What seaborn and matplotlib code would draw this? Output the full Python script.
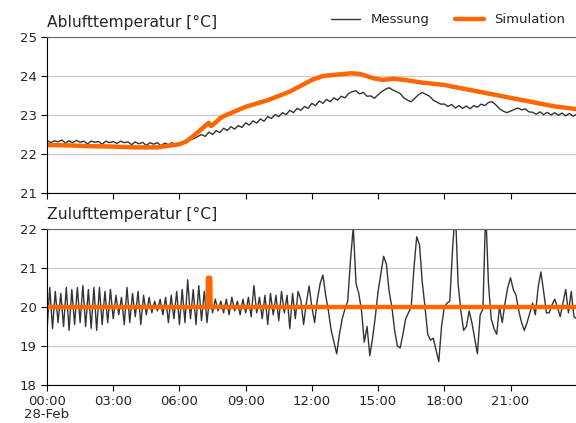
import numpy as np
import pandas as pd
import matplotlib
matplotlib.use("Agg")
import matplotlib.pyplot as plt
import matplotlib.dates as mdates
from matplotlib.ticker import FuncFormatter
import seaborn as sns

sns.set_style("white")
plt.rcParams['font.family'] = ['DejaVu Sans']

START = pd.Timestamp("2021-02-28 00:00")

# ---------------- data ----------------
# Abluft measured, 10-minute samples
abluft_mess = [
    22.35, 22.29, 22.34, 22.31, 22.36, 22.28,
    22.34, 22.29, 22.35, 22.30, 22.33, 22.26,
    22.33, 22.30, 22.32, 22.25, 22.33, 22.29,
    22.32, 22.27, 22.33, 22.29, 22.31, 22.24,
    22.31, 22.26, 22.30, 22.22, 22.29, 22.25,
    22.29, 22.21, 22.28, 22.24, 22.29, 22.23,
    22.28, 22.26, 22.31, 22.36, 22.40, 22.45,
    22.50, 22.45, 22.56, 22.50, 22.60, 22.55,
    22.66, 22.60, 22.70, 22.64, 22.73, 22.68,
    22.80, 22.74, 22.85, 22.79, 22.90, 22.84,
    22.96, 22.91, 23.01, 22.96, 23.06, 23.01,
    23.12, 23.06, 23.17, 23.12, 23.22, 23.17,
    23.30, 23.24, 23.36, 23.30, 23.40, 23.34,
    23.44, 23.38, 23.48, 23.44, 23.55, 23.60,
    23.62, 23.54, 23.58, 23.48, 23.49, 23.43,
    23.52, 23.60, 23.66, 23.70, 23.64, 23.60,
    23.55, 23.44, 23.38, 23.34, 23.43, 23.52,
    23.58, 23.53, 23.48, 23.38, 23.33, 23.28,
    23.28, 23.22, 23.27, 23.18, 23.24, 23.17,
    23.23, 23.16, 23.24, 23.20, 23.28, 23.24,
    23.32, 23.34, 23.26, 23.16, 23.10, 23.06,
    23.10, 23.14, 23.18, 23.13, 23.16, 23.08,
    23.07, 23.02, 23.08, 23.01, 23.07, 23.00,
    23.06, 22.99, 23.05, 22.98, 23.04, 22.97,
    23.02,
]
abluft_mess_step_h = 1 / 6

# Abluft simulation (hours, values)
abluft_sim_h = [0, 1, 2, 3, 4, 5, 6, 6.3, 6.6, 7.0, 7.2, 7.33, 7.42, 7.5, 7.85,
                8, 9, 10, 11, 12, 12.5, 13, 13.8, 14.2, 14.8, 15.2, 15.7, 16.2,
                17, 18, 19, 20, 21, 22, 23, 24]
abluft_sim = [22.23, 22.22, 22.2, 22.19, 22.17, 22.17, 22.25, 22.32, 22.45, 22.64,
              22.74, 22.8, 22.72, 22.74, 22.92,
              22.97, 23.21, 23.38, 23.6, 23.9, 24.0, 24.03, 24.07, 24.05, 23.94,
              23.9, 23.93, 23.9, 23.83, 23.77, 23.66, 23.55, 23.44, 23.33, 23.22, 23.15]

# Zuluft measured, 7.5-minute samples
zuluft_mess = [
    19.40, 20.50, 19.45, 20.40, 19.60, 20.35, 19.50, 20.50, 19.40, 20.45, 19.55, 20.50,
    19.60, 20.55, 19.50, 20.45, 19.45, 20.50, 19.40, 20.50, 19.55, 20.40, 19.60, 20.45,
    19.70, 20.30, 19.80, 20.25, 19.55, 20.50, 19.60, 20.35, 19.75, 20.40, 19.55, 20.30,
    19.80, 20.25, 19.85, 20.15, 19.90, 20.20, 19.80, 20.25,
    19.60, 20.30, 19.70, 20.40, 19.55, 20.45, 19.60, 20.70, 19.70, 20.45, 19.55, 20.55, 19.65, 20.40,
    19.60, 20.35,
    19.85, 20.20, 19.90, 20.15, 19.85, 20.20, 19.80, 20.25, 19.90, 20.15, 19.80, 20.20, 19.85, 20.25,
    19.75, 20.55,
    19.85, 20.25, 19.70, 20.30, 19.55, 20.35, 19.80, 20.30, 19.65, 20.40, 19.85, 20.30, 19.45, 20.35, 19.70, 20.40,
    20.18, 19.55, 20.10, 20.54, 20.00, 19.60, 20.20, 20.60,
    20.82, 20.30, 19.90, 19.40, 19.10, 18.80, 19.30, 19.70,
    19.95, 20.15, 21.20, 22.05, 20.60, 20.35, 19.90, 19.10,
    19.50, 18.75, 19.20, 19.75, 20.40, 20.85, 21.30, 21.10,
    20.40, 20.00, 19.40, 19.00, 18.95, 19.30, 19.70, 19.85,
    20.00, 21.00, 21.80, 21.60, 20.65, 20.00, 19.30, 19.15,
    19.20, 18.90, 18.60, 19.50, 20.00, 20.10, 20.15, 21.50,
    22.50, 20.60, 19.90, 19.40, 19.50, 19.90, 19.60, 19.20,
    18.80, 19.80, 19.95, 22.50, 20.60, 19.70, 19.45, 19.30,
    20.00, 19.60, 20.10, 20.50, 20.75, 20.45, 20.30, 19.90,
    19.60, 19.40, 19.60, 19.85, 20.10, 19.80, 20.50, 20.90,
    20.40, 19.85, 19.85, 20.05, 20.20, 20.00, 19.75, 20.10,
    20.45, 19.85, 20.40, 19.75, 19.70,
]
zuluft_mess_step_h = 7.5 / 60

# Zuluft simulation (hours, values)
zuluft_sim_h = [0, 7.27, 7.29, 7.39, 7.41, 24]
zuluft_sim = [20.0, 20.0, 20.75, 20.75, 20.0, 20.0]

y_ticks_ab = [21, 22, 23, 24, 25]
y_ticks_zu = [18, 19, 20, 21, 22]
title_ab = "Ablufttemperatur [°C]"
title_zu = "Zulufttemperatur [°C]"
label_mess = "Messung"
label_sim = "Simulation"


def to_time(hours):
    return START + pd.to_timedelta(np.asarray(hours, dtype=float), unit="h")


df_ab_m = pd.DataFrame({"t": to_time(np.arange(len(abluft_mess)) * abluft_mess_step_h),
                        "v": abluft_mess})
df_ab_s = pd.DataFrame({"t": to_time(abluft_sim_h), "v": abluft_sim})
df_zu_m = pd.DataFrame({"t": to_time(np.arange(len(zuluft_mess)) * zuluft_mess_step_h),
                        "v": zuluft_mess})
df_zu_s = pd.DataFrame({"t": to_time(zuluft_sim_h), "v": zuluft_sim})

MESS_C = "#333333"
SIM_C = "#ff6600"
TICK_FS = 9.5

fig = plt.figure(figsize=(5.76, 4.23), dpi=100)
ax1 = fig.add_axes([47 / 576, 1 - 193 / 423, 1 - 47 / 576, 156 / 423])
ax2 = fig.add_axes([47 / 576, 1 - 385 / 423, 1 - 47 / 576, 156 / 423])

for ax, dm, ds, yt, title in [(ax1, df_ab_m, df_ab_s, y_ticks_ab, title_ab),
                              (ax2, df_zu_m, df_zu_s, y_ticks_zu, title_zu)]:
    sns.lineplot(data=dm, x="t", y="v", ax=ax, color=MESS_C, lw=1.0,
                 estimator=None, label=label_mess)
    sns.lineplot(data=ds, x="t", y="v", ax=ax, color=SIM_C, lw=3.2,
                 estimator=None, label=label_sim, solid_joinstyle="round",
                 solid_capstyle="round")
    ax.set_ylim(yt[0], yt[-1])
    ax.set_yticks(yt)
    ax.set_xlim(START, START + pd.Timedelta(hours=23, minutes=58))
    ax.grid(axis="y", color="#cccccc", lw=1.0)
    ax.set_axisbelow(True)
    ax.set_xlabel("")
    ax.set_ylabel("")
    ax.set_title(title, loc="left", fontsize=11.2, pad=7)
    ax.spines["right"].set_visible(False)
    ax.spines["top"].set_color("#666666")
    ax.spines["left"].set_color("black")
    ax.spines["bottom"].set_color("black")
    ax.tick_params(axis="both", which="major", labelsize=TICK_FS, length=4,
                   direction="out", left=True, bottom=True, color="black")
    ax.xaxis.set_major_locator(mdates.HourLocator(byhour=range(0, 24, 3)))
    ax.get_legend().remove()


def fmt(x, pos):
    d = mdates.num2date(x)
    s = d.strftime("%H:%M")
    if d.hour == 0 and d.minute == 0:
        s += "\n" + d.strftime("%d-%b")
    return s


ax2.xaxis.set_major_formatter(FuncFormatter(fmt))
ax1.xaxis.set_major_formatter(FuncFormatter(lambda x, p: ""))

handles, labels = ax1.get_legend_handles_labels()
ax1.legend(handles, labels, loc="lower right", bbox_to_anchor=(0.99, 1.035),
           ncol=2, frameon=False, fontsize=9.5, borderaxespad=0.0,
           columnspacing=1.9, handlelength=2.2, handletextpad=0.8)

fig.canvas.draw()
for lab in ax2.get_xticklabels():
    lab.set_linespacing(0.95)

fig.savefig("out.png", dpi=100)
